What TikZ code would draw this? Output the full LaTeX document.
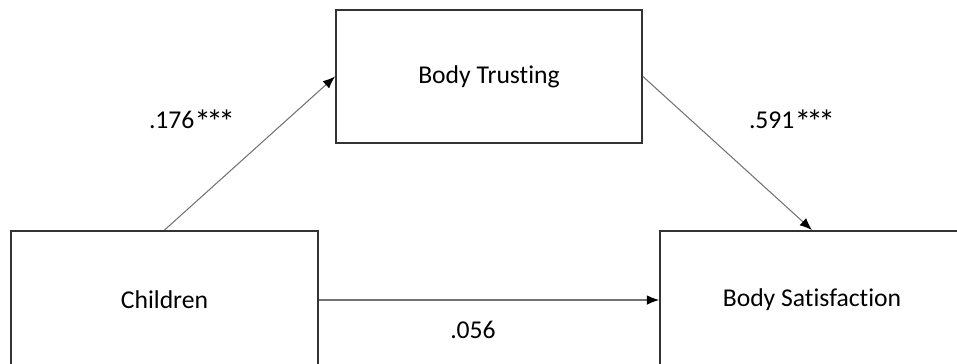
\documentclass[tikz,border=0pt]{standalone}
\usepackage{fontspec}
\usepackage{graphicx}
\setmainfont{Carlito}[Ligatures=NoCommon]
\usetikzlibrary{arrows.meta}
\newcommand{\sigstars}{\raisebox{-0.45ex}{\scalebox{1.3}{*\kern-0.14em*\kern-0.14em*}}}

\begin{document}
\begin{tikzpicture}[x=0.02cm,y=-0.02cm,
  every node/.style={font=\fontsize{14.6}{17}\selectfont},
  varbox/.style={draw=black!80,line width=1.1pt,inner sep=0pt},
  path/.style={draw=black!55,line width=0.6pt,-{Latex[length=7pt,width=5.5pt,color=black]}}]
\useasboundingbox (0,0) rectangle (957,363);
\clip (0,0) rectangle (957,363);
\node[varbox,minimum width=6.14cm,minimum height=2.76cm] (children) at (164.5,300) {Children};
\node[varbox,minimum width=6.12cm,minimum height=2.66cm] (trusting) at (489,76.5) {Body Trusting};
\node[varbox,minimum width=6.08cm,minimum height=2.76cm] (satisfaction) at (812,300) {Body Satisfaction};
\draw[path] (children.north) -- (trusting.west);
\draw[path] (trusting.east) -- (satisfaction.north);
\draw[path] (children.east) -- (satisfaction.west);
\node (lab1) at (192,122) {.176\sigstars};
\node (lab2) at (792,122) {.591\sigstars};
\node (lab3) at (473,330) {.056};
\end{tikzpicture}
\end{document}
